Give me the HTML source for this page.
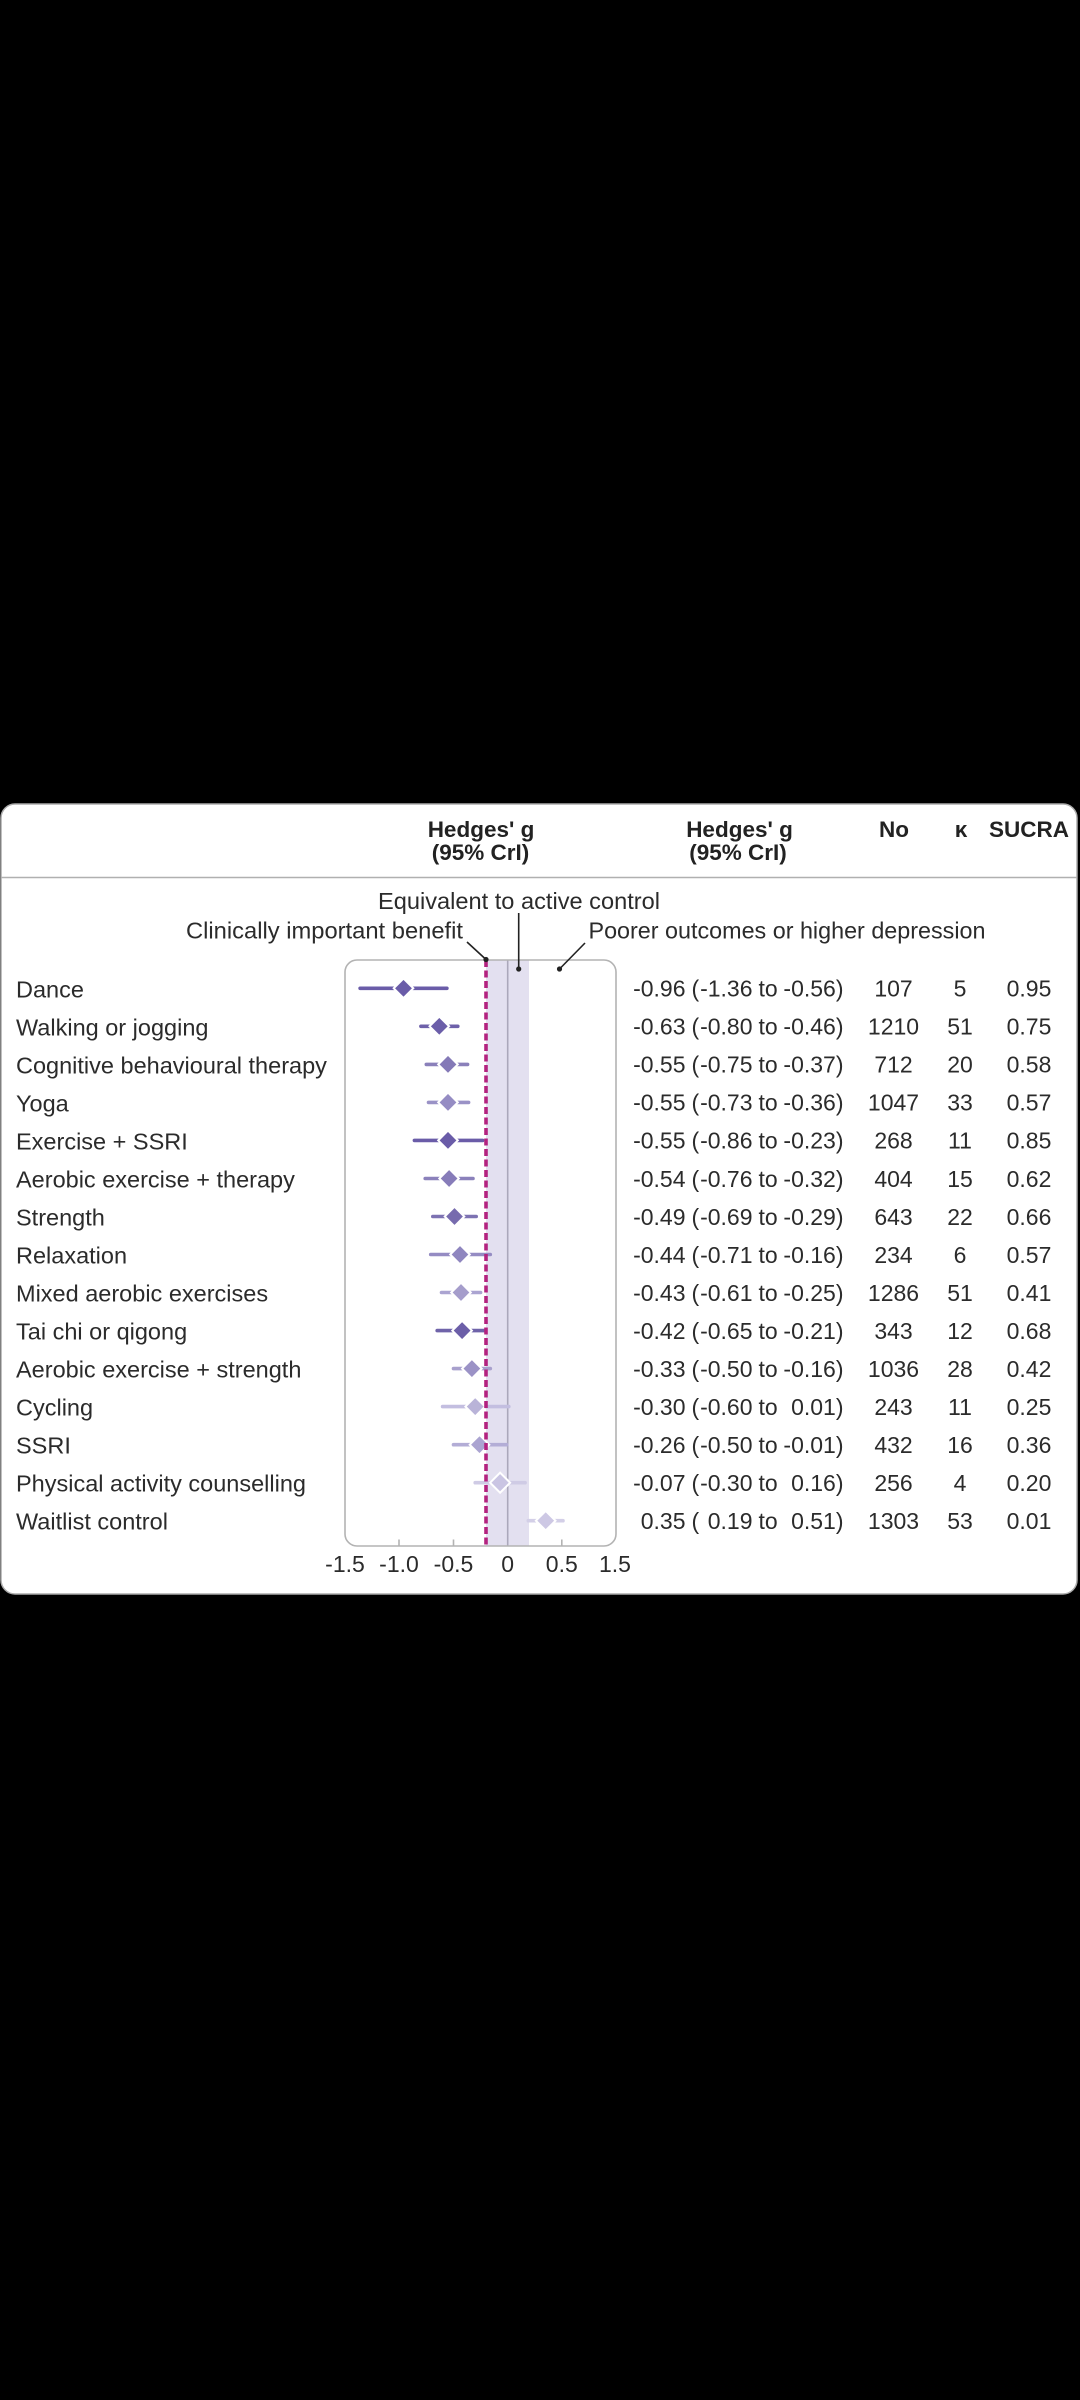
<!DOCTYPE html>
<html>
<head>
<meta charset="utf-8">
<style>
  html, body { margin:0; padding:0; background:#000; }
  svg { display:block; }
  text { font-family: "Liberation Sans", "DejaVu Sans", sans-serif; fill:#2b2b2b; }
  .b { font-weight:bold; font-size:22.5px; fill:#222; }
  .l { font-size:23.5px; }
  .v { font-size:23px; }
</style>
</head>
<body>
<svg width="1080" height="2400" viewBox="0 0 1080 2400" xmlns="http://www.w3.org/2000/svg">
  <rect x="0" y="0" width="1080" height="2400" fill="#000"/>
  <!-- card -->
  <rect x="1" y="804" width="1076" height="790" rx="14" ry="14" fill="#fff" stroke="#ababab" stroke-width="1.5"/>
  <line x1="1" y1="877.5" x2="1077" y2="877.5" stroke="#b0b0b0" stroke-width="1.5"/>

  <!-- headers -->
  <text class="b" x="481" y="837" text-anchor="middle">Hedges' g</text>
  <text class="b" x="480.5" y="860" text-anchor="middle">(95% CrI)</text>
  <text class="b" x="739.5" y="837" text-anchor="middle">Hedges' g</text>
  <text class="b" x="738" y="860" text-anchor="middle">(95% CrI)</text>
  <text class="b" x="894" y="837" text-anchor="middle">No</text>
  <text class="b" x="961" y="837" text-anchor="middle">κ</text>
  <text class="b" x="1029" y="837" text-anchor="middle">SUCRA</text>

  <!-- annotations -->
  <text class="l" x="378" y="909" textLength="282" lengthAdjust="spacingAndGlyphs">Equivalent to active control</text>
  <text class="l" x="186" y="938.5" textLength="277" lengthAdjust="spacingAndGlyphs">Clinically important benefit</text>
  <text class="l" x="588.5" y="938.5" textLength="397" lengthAdjust="spacingAndGlyphs">Poorer outcomes or higher depression</text>

  <!-- plot box background elements -->
  <rect x="486" y="960.5" width="43" height="585" fill="#e3e0f0"/>
  <line x1="507.7" y1="960.5" x2="507.7" y2="1545.5" stroke="#aba8bb" stroke-width="1.6"/>
  <rect x="345" y="960" width="271" height="586" rx="12" ry="12" fill="none" stroke="#b3b3b3" stroke-width="1.6"/>
  <!-- ticks -->
  <line x1="399" y1="1539.5" x2="399" y2="1546" stroke="#b3b3b3" stroke-width="1.6"/>
  <line x1="453.5" y1="1539.5" x2="453.5" y2="1546" stroke="#b3b3b3" stroke-width="1.6"/>
  <line x1="561.8" y1="1539.5" x2="561.8" y2="1546" stroke="#b3b3b3" stroke-width="1.6"/>

  <!-- rows: CI lines + diamonds -->
  <g stroke-linecap="round" stroke-width="3.6">
    <!-- Dance -->
    <line x1="360.1" y1="988.3" x2="446.9" y2="988.3" stroke="#6a5ca8"/>
    <polygon points="403.5,978.5 413.3,988.3 403.5,998.1 393.7,988.3" fill="#6a5ca8" stroke="#fff" stroke-width="2"/>
    <!-- Walking -->
    <line x1="420.9" y1="1026.3" x2="457.8" y2="1026.3" stroke="#6e61aa"/>
    <polygon points="439.3,1016.5 449.1,1026.3 439.3,1036.1 429.5,1026.3" fill="#6b5ea9" stroke="#fff" stroke-width="2"/>
    <!-- CBT -->
    <line x1="426.3" y1="1064.4" x2="467.6" y2="1064.4" stroke="#8a80ba"/>
    <polygon points="448,1054.6 457.8,1064.4 448,1074.2 438.2,1064.4" fill="#8479b7" stroke="#fff" stroke-width="2"/>
    <!-- Yoga -->
    <line x1="428.5" y1="1102.4" x2="468.6" y2="1102.4" stroke="#9a92c6"/>
    <polygon points="448,1092.6 457.8,1102.4 448,1112.2 438.2,1102.4" fill="#958cc3" stroke="#fff" stroke-width="2"/>
    <!-- Exercise + SSRI -->
    <line x1="414.4" y1="1140.4" x2="482.7" y2="1140.4" stroke="#6a5ca8"/>
    <polygon points="448,1130.6 457.8,1140.4 448,1150.2 438.2,1140.4" fill="#6a5ca8" stroke="#fff" stroke-width="2"/>
    <!-- Aerobic exercise + therapy -->
    <line x1="425.2" y1="1178.5" x2="473.0" y2="1178.5" stroke="#8b81bb"/>
    <polygon points="449.1,1168.7 458.9,1178.5 449.1,1188.3 439.3,1178.5" fill="#877cb9" stroke="#fff" stroke-width="2"/>
    <!-- Strength -->
    <line x1="432.8" y1="1216.5" x2="476.2" y2="1216.5" stroke="#7d72b2"/>
    <polygon points="454.5,1206.7 464.3,1216.5 454.5,1226.3 444.7,1216.5" fill="#776bae" stroke="#fff" stroke-width="2"/>
    <!-- Relaxation -->
    <line x1="430.7" y1="1254.5" x2="490.3" y2="1254.5" stroke="#958cc3"/>
    <polygon points="460,1244.7 469.8,1254.5 460,1264.3 450.2,1254.5" fill="#8f86bf" stroke="#fff" stroke-width="2"/>
    <!-- Mixed aerobic exercises -->
    <line x1="441.5" y1="1292.5" x2="480.6" y2="1292.5" stroke="#aba4d1"/>
    <polygon points="461,1282.7 470.8,1292.5 461,1302.3 451.2,1292.5" fill="#a59dcb" stroke="#fff" stroke-width="2"/>
    <!-- Tai chi -->
    <line x1="437.2" y1="1330.6" x2="484.9" y2="1330.6" stroke="#6f63a9"/>
    <polygon points="462.1,1320.8 471.9,1330.6 462.1,1340.4 452.3,1330.6" fill="#6c5fa8" stroke="#fff" stroke-width="2"/>
    <!-- Aerobic exercise + strength -->
    <line x1="453.5" y1="1368.6" x2="490.3" y2="1368.6" stroke="#a8a0cd"/>
    <polygon points="471.9,1358.8 481.7,1368.6 471.9,1378.4 462.1,1368.6" fill="#9b92c6" stroke="#fff" stroke-width="2"/>
    <!-- Cycling -->
    <line x1="442.6" y1="1406.6" x2="508.8" y2="1406.6" stroke="#c3bee0"/>
    <polygon points="475.2,1396.8 485,1406.6 475.2,1416.4 465.4,1406.6" fill="#b9b3d8" stroke="#fff" stroke-width="2"/>
    <!-- SSRI -->
    <line x1="453.5" y1="1444.7" x2="506.6" y2="1444.7" stroke="#b3add6"/>
    <polygon points="479.5,1434.9 489.3,1444.7 479.5,1454.5 469.7,1444.7" fill="#aba4d1" stroke="#fff" stroke-width="2"/>
    <!-- PAC -->
    <line x1="475.2" y1="1482.7" x2="525.1" y2="1482.7" stroke="#cfcbe5"/>
    <polygon points="500.1,1472.7 510.1,1482.7 500.1,1492.7 490.1,1482.7" fill="#cac5e3" stroke="#fff" stroke-width="2"/>
    <!-- Waitlist -->
    <line x1="528.3" y1="1520.7" x2="563.0" y2="1520.7" stroke="#d3cfe7"/>
    <polygon points="545.7,1510.9 555.5,1520.7 545.7,1530.5 535.9,1520.7" fill="#cdc8e4" stroke="#fff" stroke-width="2"/>
  </g>

  <!-- dashed clinically important line -->
  <line x1="486" y1="960" x2="486" y2="1547" stroke="#b3227f" stroke-width="3.6" stroke-dasharray="7,3.5"/>

  <!-- leader lines and dots -->
  <g stroke="#222" stroke-width="1.6" fill="#222">
    <line x1="467" y1="942" x2="486" y2="959.5"/>
    <circle cx="486" cy="959.5" r="2.6" stroke="none"/>
    <line x1="518.7" y1="913" x2="518.7" y2="969"/>
    <circle cx="518.7" cy="969" r="2.6" stroke="none"/>
    <line x1="585" y1="943" x2="559.5" y2="969"/>
    <circle cx="559.5" cy="969" r="2.6" stroke="none"/>
  </g>

  <!-- tick labels -->
  <g class="v">
    <text class="v" x="345" y="1572" text-anchor="middle">-1.5</text>
    <text class="v" x="399" y="1572" text-anchor="middle">-1.0</text>
    <text class="v" x="453.5" y="1572" text-anchor="middle">-0.5</text>
    <text class="v" x="507.7" y="1572" text-anchor="middle">0</text>
    <text class="v" x="561.8" y="1572" text-anchor="middle">0.5</text>
    <text class="v" x="615" y="1572" text-anchor="middle">1.5</text>
  </g>

  <!-- row labels -->
  <g>
    <text class="l" x="16" y="997.3">Dance</text>
    <text class="l" x="16" y="1035.3">Walking or jogging</text>
    <text class="l" x="16" y="1073.4">Cognitive behavioural therapy</text>
    <text class="l" x="16" y="1111.4">Yoga</text>
    <text class="l" x="16" y="1149.4">Exercise + SSRI</text>
    <text class="l" x="16" y="1187.5">Aerobic exercise + therapy</text>
    <text class="l" x="16" y="1225.5">Strength</text>
    <text class="l" x="16" y="1263.5">Relaxation</text>
    <text class="l" x="16" y="1301.5">Mixed aerobic exercises</text>
    <text class="l" x="16" y="1339.6">Tai chi or qigong</text>
    <text class="l" x="16" y="1377.6">Aerobic exercise + strength</text>
    <text class="l" x="16" y="1415.6">Cycling</text>
    <text class="l" x="16" y="1453.7">SSRI</text>
    <text class="l" x="16" y="1491.7">Physical activity counselling</text>
    <text class="l" x="16" y="1529.7">Waitlist control</text>
  </g>

  <!-- values -->
  <g class="v">
    <!-- row 0 -->
    <text class="v" x="685.5" y="996.6" text-anchor="end">-0.96</text><text class="v" x="691.5" y="996.6">(</text><text class="v" x="752.5" y="996.6" text-anchor="end">-1.36</text><text class="v" x="758.5" y="996.6">to</text><text class="v" x="843.5" y="996.6" text-anchor="end">-0.56)</text>
    <text class="v" x="893.5" y="996.6" text-anchor="middle">107</text><text class="v" x="960" y="996.6" text-anchor="middle">5</text><text class="v" x="1029" y="996.6" text-anchor="middle">0.95</text>
    <!-- row 1 -->
    <text class="v" x="685.5" y="1034.6" text-anchor="end">-0.63</text><text class="v" x="691.5" y="1034.6">(</text><text class="v" x="752.5" y="1034.6" text-anchor="end">-0.80</text><text class="v" x="758.5" y="1034.6">to</text><text class="v" x="843.5" y="1034.6" text-anchor="end">-0.46)</text>
    <text class="v" x="893.5" y="1034.6" text-anchor="middle">1210</text><text class="v" x="960" y="1034.6" text-anchor="middle">51</text><text class="v" x="1029" y="1034.6" text-anchor="middle">0.75</text>
    <!-- row 2 -->
    <text class="v" x="685.5" y="1072.7" text-anchor="end">-0.55</text><text class="v" x="691.5" y="1072.7">(</text><text class="v" x="752.5" y="1072.7" text-anchor="end">-0.75</text><text class="v" x="758.5" y="1072.7">to</text><text class="v" x="843.5" y="1072.7" text-anchor="end">-0.37)</text>
    <text class="v" x="893.5" y="1072.7" text-anchor="middle">712</text><text class="v" x="960" y="1072.7" text-anchor="middle">20</text><text class="v" x="1029" y="1072.7" text-anchor="middle">0.58</text>
    <!-- row 3 -->
    <text class="v" x="685.5" y="1110.7" text-anchor="end">-0.55</text><text class="v" x="691.5" y="1110.7">(</text><text class="v" x="752.5" y="1110.7" text-anchor="end">-0.73</text><text class="v" x="758.5" y="1110.7">to</text><text class="v" x="843.5" y="1110.7" text-anchor="end">-0.36)</text>
    <text class="v" x="893.5" y="1110.7" text-anchor="middle">1047</text><text class="v" x="960" y="1110.7" text-anchor="middle">33</text><text class="v" x="1029" y="1110.7" text-anchor="middle">0.57</text>
    <!-- row 4 -->
    <text class="v" x="685.5" y="1148.7" text-anchor="end">-0.55</text><text class="v" x="691.5" y="1148.7">(</text><text class="v" x="752.5" y="1148.7" text-anchor="end">-0.86</text><text class="v" x="758.5" y="1148.7">to</text><text class="v" x="843.5" y="1148.7" text-anchor="end">-0.23)</text>
    <text class="v" x="893.5" y="1148.7" text-anchor="middle">268</text><text class="v" x="960" y="1148.7" text-anchor="middle">11</text><text class="v" x="1029" y="1148.7" text-anchor="middle">0.85</text>
    <!-- row 5 -->
    <text class="v" x="685.5" y="1186.8" text-anchor="end">-0.54</text><text class="v" x="691.5" y="1186.8">(</text><text class="v" x="752.5" y="1186.8" text-anchor="end">-0.76</text><text class="v" x="758.5" y="1186.8">to</text><text class="v" x="843.5" y="1186.8" text-anchor="end">-0.32)</text>
    <text class="v" x="893.5" y="1186.8" text-anchor="middle">404</text><text class="v" x="960" y="1186.8" text-anchor="middle">15</text><text class="v" x="1029" y="1186.8" text-anchor="middle">0.62</text>
    <!-- row 6 -->
    <text class="v" x="685.5" y="1224.8" text-anchor="end">-0.49</text><text class="v" x="691.5" y="1224.8">(</text><text class="v" x="752.5" y="1224.8" text-anchor="end">-0.69</text><text class="v" x="758.5" y="1224.8">to</text><text class="v" x="843.5" y="1224.8" text-anchor="end">-0.29)</text>
    <text class="v" x="893.5" y="1224.8" text-anchor="middle">643</text><text class="v" x="960" y="1224.8" text-anchor="middle">22</text><text class="v" x="1029" y="1224.8" text-anchor="middle">0.66</text>
    <!-- row 7 -->
    <text class="v" x="685.5" y="1262.8" text-anchor="end">-0.44</text><text class="v" x="691.5" y="1262.8">(</text><text class="v" x="752.5" y="1262.8" text-anchor="end">-0.71</text><text class="v" x="758.5" y="1262.8">to</text><text class="v" x="843.5" y="1262.8" text-anchor="end">-0.16)</text>
    <text class="v" x="893.5" y="1262.8" text-anchor="middle">234</text><text class="v" x="960" y="1262.8" text-anchor="middle">6</text><text class="v" x="1029" y="1262.8" text-anchor="middle">0.57</text>
    <!-- row 8 -->
    <text class="v" x="685.5" y="1300.8" text-anchor="end">-0.43</text><text class="v" x="691.5" y="1300.8">(</text><text class="v" x="752.5" y="1300.8" text-anchor="end">-0.61</text><text class="v" x="758.5" y="1300.8">to</text><text class="v" x="843.5" y="1300.8" text-anchor="end">-0.25)</text>
    <text class="v" x="893.5" y="1300.8" text-anchor="middle">1286</text><text class="v" x="960" y="1300.8" text-anchor="middle">51</text><text class="v" x="1029" y="1300.8" text-anchor="middle">0.41</text>
    <!-- row 9 -->
    <text class="v" x="685.5" y="1338.9" text-anchor="end">-0.42</text><text class="v" x="691.5" y="1338.9">(</text><text class="v" x="752.5" y="1338.9" text-anchor="end">-0.65</text><text class="v" x="758.5" y="1338.9">to</text><text class="v" x="843.5" y="1338.9" text-anchor="end">-0.21)</text>
    <text class="v" x="893.5" y="1338.9" text-anchor="middle">343</text><text class="v" x="960" y="1338.9" text-anchor="middle">12</text><text class="v" x="1029" y="1338.9" text-anchor="middle">0.68</text>
    <!-- row 10 -->
    <text class="v" x="685.5" y="1376.9" text-anchor="end">-0.33</text><text class="v" x="691.5" y="1376.9">(</text><text class="v" x="752.5" y="1376.9" text-anchor="end">-0.50</text><text class="v" x="758.5" y="1376.9">to</text><text class="v" x="843.5" y="1376.9" text-anchor="end">-0.16)</text>
    <text class="v" x="893.5" y="1376.9" text-anchor="middle">1036</text><text class="v" x="960" y="1376.9" text-anchor="middle">28</text><text class="v" x="1029" y="1376.9" text-anchor="middle">0.42</text>
    <!-- row 11 -->
    <text class="v" x="685.5" y="1414.9" text-anchor="end">-0.30</text><text class="v" x="691.5" y="1414.9">(</text><text class="v" x="752.5" y="1414.9" text-anchor="end">-0.60</text><text class="v" x="758.5" y="1414.9">to</text><text class="v" x="843.5" y="1414.9" text-anchor="end">0.01)</text>
    <text class="v" x="893.5" y="1414.9" text-anchor="middle">243</text><text class="v" x="960" y="1414.9" text-anchor="middle">11</text><text class="v" x="1029" y="1414.9" text-anchor="middle">0.25</text>
    <!-- row 12 -->
    <text class="v" x="685.5" y="1453.0" text-anchor="end">-0.26</text><text class="v" x="691.5" y="1453.0">(</text><text class="v" x="752.5" y="1453.0" text-anchor="end">-0.50</text><text class="v" x="758.5" y="1453.0">to</text><text class="v" x="843.5" y="1453.0" text-anchor="end">-0.01)</text>
    <text class="v" x="893.5" y="1453.0" text-anchor="middle">432</text><text class="v" x="960" y="1453.0" text-anchor="middle">16</text><text class="v" x="1029" y="1453.0" text-anchor="middle">0.36</text>
    <!-- row 13 -->
    <text class="v" x="685.5" y="1491.0" text-anchor="end">-0.07</text><text class="v" x="691.5" y="1491.0">(</text><text class="v" x="752.5" y="1491.0" text-anchor="end">-0.30</text><text class="v" x="758.5" y="1491.0">to</text><text class="v" x="843.5" y="1491.0" text-anchor="end">0.16)</text>
    <text class="v" x="893.5" y="1491.0" text-anchor="middle">256</text><text class="v" x="960" y="1491.0" text-anchor="middle">4</text><text class="v" x="1029" y="1491.0" text-anchor="middle">0.20</text>
    <!-- row 14 -->
    <text class="v" x="685.5" y="1529.0" text-anchor="end">0.35</text><text class="v" x="691.5" y="1529.0">(</text><text class="v" x="752.5" y="1529.0" text-anchor="end">0.19</text><text class="v" x="758.5" y="1529.0">to</text><text class="v" x="843.5" y="1529.0" text-anchor="end">0.51)</text>
    <text class="v" x="893.5" y="1529.0" text-anchor="middle">1303</text><text class="v" x="960" y="1529.0" text-anchor="middle">53</text><text class="v" x="1029" y="1529.0" text-anchor="middle">0.01</text>
  </g>
</svg>
</body>
</html>
